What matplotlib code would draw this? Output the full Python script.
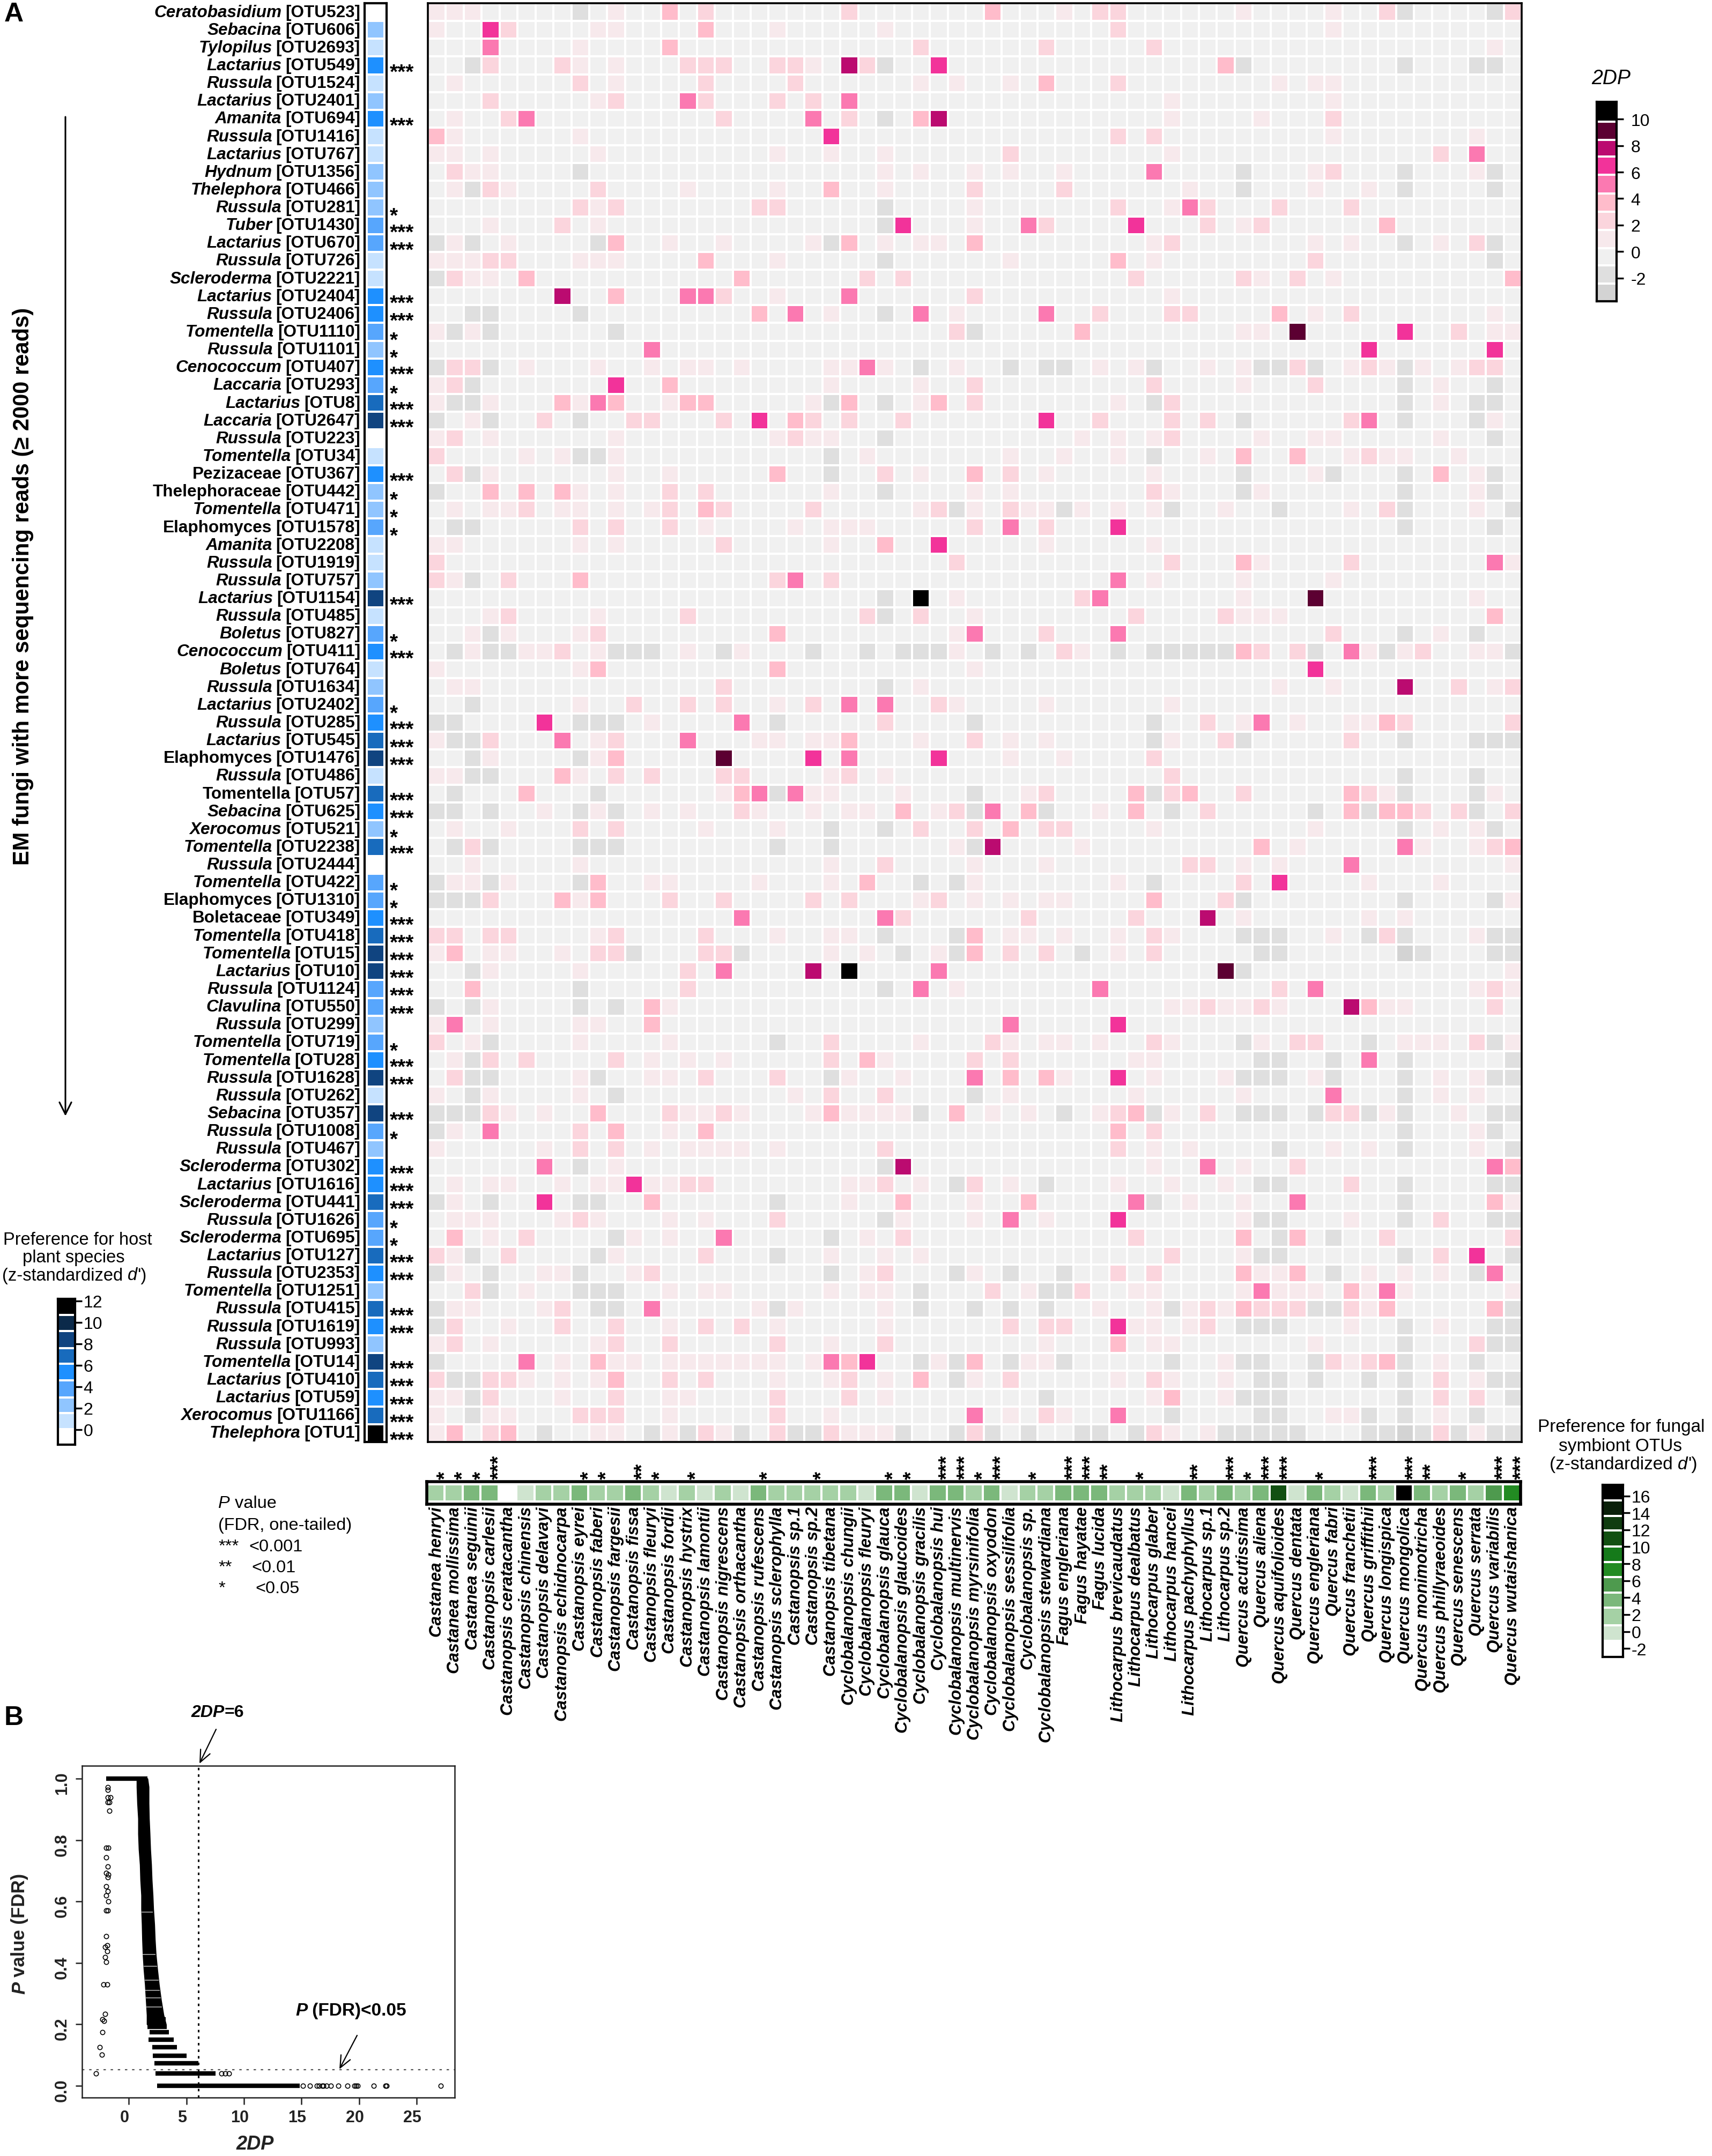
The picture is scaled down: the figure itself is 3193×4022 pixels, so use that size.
import numpy as np
import matplotlib
matplotlib.use('Agg')
import matplotlib.pyplot as plt
from matplotlib.colors import ListedColormap, BoundaryNorm
from matplotlib.patches import FancyArrowPatch
from matplotlib.transforms import blended_transform_factory, ScaledTranslation

plt.rcParams['font.family'] = ['Liberation Sans', 'DejaVu Sans']
plt.rcParams['axes.unicode_minus'] = False

W, H = 3193, 4023

# fungal OTUs, top to bottom
genus = ['Ceratobasidium','Sebacina','Tylopilus','Lactarius','Russula','Lactarius','Amanita','Russula','Lactarius','Hydnum',
         'Thelephora','Russula','Tuber','Lactarius','Russula','Scleroderma','Lactarius','Russula','Tomentella','Russula',
         'Cenococcum','Laccaria','Lactarius','Laccaria','Russula','Tomentella','Pezizaceae','Thelephoraceae','Tomentella','Elaphomyces',
         'Amanita','Russula','Russula','Lactarius','Russula','Boletus','Cenococcum','Boletus','Russula','Lactarius',
         'Russula','Lactarius','Elaphomyces','Russula','Tomentella','Sebacina','Xerocomus','Tomentella','Russula','Tomentella',
         'Elaphomyces','Boletaceae','Tomentella','Tomentella','Lactarius','Russula','Clavulina','Russula','Tomentella','Tomentella',
         'Russula','Russula','Sebacina','Russula','Russula','Scleroderma','Lactarius','Scleroderma','Russula','Scleroderma',
         'Lactarius','Russula','Tomentella','Russula','Russula','Russula','Tomentella','Lactarius','Lactarius','Xerocomus','Thelephora']
otu = [523,606,2693,549,1524,2401,694,1416,767,1356,466,281,1430,670,726,2221,2404,2406,1110,1101,407,293,8,2647,223,34,367,442,471,1578,
       2208,1919,757,1154,485,827,411,764,1634,2402,285,545,1476,486,57,625,521,2238,2444,422,1310,349,418,15,10,1124,550,299,719,28,
       1628,262,357,1008,467,302,1616,441,1626,695,127,2353,1251,415,1619,993,14,410,59,1166,1]
upright_rows = [26, 27, 29, 42, 44, 50, 51]

# z-standardized d' of each fungus, and its star count
otu_pref = [-0.5,2.3,0.8,5.4,0.8,2.3,5.4,0.8,0.8,2.3,2.3,2.3,3.8,3.8,0.8,0.8,5.4,5.4,3.8,2.3,5.4,3.8,6.9,8.4,-0.5,0.8,5.4,
            2.3,2.3,3.8,0.8,0.8,2.3,8.4,0.8,3.8,5.4,0.8,2.3,3.8,5.4,6.9,8.4,0.8,6.9,5.4,2.3,6.9,-0.5,3.8,3.8,5.4,6.9,8.4,8.4,
            3.8,3.8,2.3,3.8,5.4,8.4,0.8,8.4,3.8,2.3,5.4,5.4,6.9,3.8,3.8,6.9,5.4,2.3,6.9,5.4,2.3,8.4,6.9,5.4,6.9,11.5]
otu_stars = [0,0,0,3,0,0,3,0,0,0,0,1,3,3,0,0,3,3,1,1,3,1,3,3,0,0,3,1,1,1,0,0,0,3,0,1,3,0,0,1,3,3,3,0,3,3,1,3,0,1,1,3,3,3,3,3,3,
             0,1,3,3,0,3,1,0,3,3,3,1,1,3,3,0,3,3,0,3,3,3,3,3]

# host plants, left to right
plants = ['Castanea henryi','Castanea mollissima','Castanea seguinii','Castanopsis carlesii','Castanopsis ceratacantha',
          'Castanopsis chinensis','Castanopsis delavayi','Castanopsis echidnocarpa','Castanopsis eyrei','Castanopsis faberi',
          'Castanopsis fargesii','Castanopsis fissa','Castanopsis fleuryi','Castanopsis fordii','Castanopsis hystrix',
          'Castanopsis lamontii','Castanopsis nigrescens','Castanopsis orthacantha','Castanopsis rufescens','Castanopsis sclerophylla',
          'Castanopsis sp.1','Castanopsis sp.2','Castanopsis tibetana','Cyclobalanopsis chungii','Cyclobalanopsis fleuryi',
          'Cyclobalanopsis glauca','Cyclobalanopsis glaucoides','Cyclobalanopsis gracilis','Cyclobalanopsis hui','Cyclobalanopsis multinervis',
          'Cyclobalanopsis myrsinifolia','Cyclobalanopsis oxyodon','Cyclobalanopsis sessilifolia','Cyclobalanopsis sp.','Cyclobalanopsis stewardiana',
          'Fagus engleriana','Fagus hayatae','Fagus lucida','Lithocarpus brevicaudatus','Lithocarpus dealbatus','Lithocarpus glaber',
          'Lithocarpus hancei','Lithocarpus pachyphyllus','Lithocarpus sp.1','Lithocarpus sp.2','Quercus acutissima','Quercus aliena',
          'Quercus aquifolioides','Quercus dentata','Quercus engleriana','Quercus fabri','Quercus franchetii','Quercus griffithii',
          'Quercus longispica','Quercus mongolica','Quercus monimotricha','Quercus phillyraeoides','Quercus senescens','Quercus serrata',
          'Quercus variabilis','Quercus wutaishanica']
plant_pref = [2,2,3.7,3.7,-2,0,2,2,3.7,2,2,3.7,2,0,2,0,2,0,3.7,2,2,2,2,2,0,3.7,3.7,0,3.7,3.7,2,3.7,0,2,2,3.7,3.7,3.7,2,2,2,0,3.7,2,3.7,2,3.7,
              11,0,3.7,2,0,3.7,2,16.5,3.7,2,3.7,2,5.5,7.3]
plant_stars = [1,1,1,3,0,0,0,0,1,1,0,2,1,0,1,0,0,0,1,0,0,1,0,0,0,1,1,0,3,3,1,3,0,1,0,3,3,2,0,1,0,0,2,0,3,1,3,3,0,1,0,0,3,0,3,2,0,1,0,3,3]

# 2DP read per row as {plant column: level}, anything left out is the pale background level
heat_rows = [
 {0:1,1:1,2:1,8:-2,10:1,13:3,15:2,23:2,31:3,35:1,37:2,38:2,45:1,50:1,53:2,54:-2,59:-2,60:2},
 {0:1,3:6,4:2,9:1,10:1,15:3,19:1,25:1,38:2,50:1},
 {3:5,8:1,13:3,27:2,34:2,40:2,59:1},
 {2:-2,3:2,7:2,8:1,10:1,14:2,15:2,16:2,19:2,20:2,21:1,23:7,24:2,25:-2,28:6,44:3,45:-2,54:-2,58:-2,59:-2},
 {1:1,8:2,10:1,15:2,20:2,27:1,29:1,32:1,34:3,38:2,47:1,49:1,50:1},
 {3:2,9:1,10:2,14:5,15:2,19:2,21:2,23:5,41:1,50:1},
 {1:1,4:2,5:5,16:2,21:5,23:2,25:-2,27:3,28:7,41:1,46:1,50:2},
 {0:3,1:1,8:1,22:6,38:2,40:2,50:1,58:1},
 {0:1,1:1,3:1,9:1,19:1,22:1,25:1,32:2,41:1,56:2,58:5},
 {1:2,2:1,3:1,8:-2,25:1,27:1,30:1,32:1,35:1,40:5,45:-2,49:1,50:2,54:-2,58:1,59:-2},
 {1:1,2:-2,3:2,4:1,9:2,14:1,19:1,22:3,25:1,30:2,35:2,42:1,45:-2,49:1,52:1,54:-2,59:-2},
 {8:2,9:1,10:2,18:2,19:2,25:-2,30:1,38:2,41:1,42:5,43:2,47:2,51:2},
 {3:1,7:2,9:1,25:-2,26:6,30:1,33:5,34:2,39:6,43:2,45:1,46:2,53:3},
 {0:-2,1:1,2:-2,4:1,9:-2,10:3,13:1,16:1,21:1,22:-2,23:3,25:1,27:1,28:1,30:3,40:1,41:2,49:1,51:1,54:-2,56:1,58:2,59:-2},
 {0:1,1:1,2:1,3:2,4:2,8:1,9:1,10:1,15:3,19:1,25:-2,32:1,38:3,40:1,49:2,59:-2},
 {0:-2,1:2,2:1,3:1,5:3,17:3,24:2,26:2,39:2,45:2,46:1,48:2,50:1,60:3},
 {7:7,10:3,14:5,15:5,16:2,19:1,23:5,30:2,41:1},
 {2:-2,3:-2,8:-2,18:3,20:5,22:1,25:-2,27:5,29:1,34:5,37:2,41:2,42:2,47:3,49:1,51:2,59:1},
 {0:1,1:-2,2:1,3:-2,10:-2,29:2,30:-2,36:3,45:1,46:1,48:9,54:6,57:2,59:1,60:1},
 {12:5,52:6,59:6},
 {0:-2,1:2,2:2,3:-2,5:1,9:1,12:1,14:1,15:1,17:1,22:1,23:1,24:5,25:1,27:-2,29:1,32:-2,34:-2,35:-2,37:1,39:1,40:-2,43:1,45:1,46:-2,47:-2,48:2,49:-2,51:1,52:2,53:1,54:-2,55:1,57:1,58:2,59:2},
 {0:1,1:2,2:-2,10:6,13:3,22:1,27:1,30:2,40:2,45:1,49:2,54:-2,56:1,59:-2},
 {0:1,1:-2,2:-2,3:1,7:3,8:1,9:5,10:3,13:1,14:3,15:3,21:1,22:-2,23:3,25:-2,27:1,28:3,30:2,38:1,40:-2,41:2,54:-2,56:1,58:-2,59:-2},
 {0:-2,2:1,3:-2,6:2,8:-2,11:2,12:2,16:2,18:6,20:3,21:2,23:2,26:2,34:6,37:2,41:2,43:2,45:-2,51:2,52:5,54:-2,58:-2,59:1},
 {0:1,1:2,3:1,10:1,19:1,20:2,21:1,22:1,25:-2,36:1,38:1,40:1,41:2,46:1,49:1,50:1,56:1,59:-2},
 {0:2,5:1,7:1,8:-2,9:-2,10:1,22:-2,24:1,32:1,35:1,38:1,40:-2,43:1,45:3,48:3,51:1,52:2,53:1,54:1,57:1},
 {1:2,2:-2,3:1,10:1,13:1,19:3,22:-2,25:2,27:1,30:3,32:2,34:1,40:1,45:-2,49:1,50:-2,54:-2,56:3,58:1,59:-2},
 {0:-2,3:3,5:3,7:3,8:1,10:1,13:2,15:2,22:1,25:-2,30:1,32:1,40:2,41:1,45:-2,46:1,54:-2,58:1,59:-2},
 {1:1,3:1,4:1,5:2,7:1,8:1,10:1,12:1,13:2,15:3,16:2,21:2,27:1,28:2,29:-2,30:1,32:2,33:1,34:1,35:-2,36:1,38:1,40:1,41:-2,44:1,47:-2,51:1,53:2,54:-2,58:1,60:-2},
 {1:-2,2:-2,8:2,10:2,13:2,15:1,20:1,22:1,23:1,24:1,30:2,32:5,34:2,38:6,54:-2,59:-2},
 {0:1,1:1,8:1,10:1,16:2,22:1,25:3,28:6,34:1,40:1},
 {0:2,29:2,41:2,45:3,46:1,51:2,59:5,60:1},
 {0:2,1:1,2:-2,4:2,8:3,19:2,20:5,22:2,38:5,40:1,45:1,50:1},
 {25:-2,27:10,29:1,36:2,37:5,45:1,49:9,58:1},
 {3:1,4:2,9:1,14:2,24:2,25:-2,27:2,30:1,39:2,44:2,45:1,46:1,47:1,59:3},
 {2:1,3:-2,4:1,8:1,9:2,19:3,29:1,30:5,34:2,38:5,50:2,54:-2,56:1,58:-2},
 {1:-2,2:1,3:-2,4:-2,5:1,6:1,7:2,9:1,10:-2,11:-2,12:-2,14:1,16:-2,17:1,21:-2,24:-2,26:-2,27:-2,28:-2,29:1,31:-2,33:-2,35:2,36:1,38:-2,40:-2,41:-2,42:-2,43:-2,44:-2,45:3,46:2,48:2,49:-2,51:5,52:1,53:-2,54:1,55:2,58:1,59:1,60:-2},
 {0:1,8:1,9:3,19:3,30:1,49:6},
 {1:1,2:1,16:2,25:-2,27:1,47:1,50:1,54:7,57:2,59:1,60:2},
 {2:-2,8:1,11:2,14:2,16:2,19:1,21:2,23:5,25:5,28:2,29:1,34:1,41:1},
 {0:-2,1:-2,6:6,8:-2,9:-2,10:-2,12:1,17:5,19:-2,25:2,30:-2,40:-2,43:2,45:1,46:5,48:1,51:1,52:1,53:3,54:2,60:2},
 {0:1,1:-2,2:-2,3:2,7:5,9:1,10:2,14:5,18:1,19:1,21:1,22:1,23:3,27:1,30:2,32:1,34:1,40:-2,41:1,44:2,45:-2,51:2,54:-2,58:-2,59:-2,60:-2},
 {2:-2,3:1,8:-2,9:1,10:3,16:9,21:6,23:5,28:6,32:1,35:1,40:2},
 {0:1,1:1,2:-2,3:-2,7:3,8:1,10:2,12:2,16:2,17:2,22:1,23:2,25:1,41:2,54:-2,58:-2},
 {1:-2,5:3,9:-2,16:1,17:3,18:5,19:-2,20:5,21:1,22:1,26:1,30:-2,33:1,34:2,39:3,40:-2,41:2,42:3,45:2,51:3,52:2,53:1,54:-2,58:-2,59:1},
 {0:-2,1:-2,3:-2,6:1,8:-2,9:1,10:-2,12:1,14:1,17:2,18:1,21:1,23:1,24:1,26:3,28:1,29:2,30:-2,31:5,33:3,34:-2,37:1,39:3,41:-2,43:2,49:-2,51:3,52:-2,53:3,54:3,55:2,57:2,58:-2,60:2},
 {1:1,4:1,8:2,10:2,15:1,19:1,22:-2,25:-2,27:2,30:2,32:3,34:2,35:2,40:1,49:1,54:-2,56:1,58:1,59:-2},
 {1:-2,2:2,3:-2,8:-2,9:-2,10:-2,19:-2,22:-2,29:1,30:-2,31:7,36:1,46:3,48:1,54:5,55:1,58:1,59:2,60:3},
 {2:1,8:1,22:1,25:2,30:1,34:1,42:2,43:2,45:1,47:1,51:5,60:1},
 {0:-2,1:1,2:1,3:-2,4:1,8:-2,9:3,12:1,13:1,18:1,22:1,24:3,27:-2,29:-2,30:1,38:1,40:-2,45:2,47:6,52:1,56:1},
 {0:-2,1:-2,2:-2,3:2,7:3,8:1,9:3,13:2,16:2,21:2,23:2,27:1,28:2,30:1,32:1,34:1,35:1,40:3,44:2,45:-2,54:-2,59:-2,60:1},
 {17:5,25:5,26:2,33:2,39:2,43:7,45:1,52:1,54:1},
 {0:2,1:2,3:2,4:2,9:1,10:2,15:2,19:1,22:1,23:1,25:-2,29:-2,30:3,32:1,33:1,35:1,38:1,40:2,41:1,45:-2,46:-2,47:-2,50:1,52:-2,53:2,54:-2,58:1,59:-2,60:-2},
 {0:1,1:3,3:1,4:1,7:1,9:2,10:2,11:-2,15:2,16:2,17:-2,22:1,24:1,26:-2,28:1,29:-2,30:3,32:2,34:2,36:-2,38:1,40:2,46:-2,47:-2,54:-3,55:-2,59:-2,60:-2},
 {2:-2,3:1,8:1,14:2,16:5,21:7,23:10,28:5,44:9,45:-2,60:1},
 {2:3,8:-2,14:2,25:-2,27:5,29:1,37:5,47:2,49:5,58:1,59:2,60:1},
 {0:-2,2:-2,3:1,8:-2,10:-2,12:3,13:1,41:1,42:1,43:2,44:1,45:1,46:2,47:1,51:7,52:3,53:1,54:1,59:2},
 {0:1,1:5,3:1,8:1,9:1,12:3,32:5,38:6},
 {0:2,2:1,3:-2,8:1,13:1,19:-2,22:2,27:1,31:2,32:1,34:1,35:1,37:1,40:2,41:1,45:-2,46:1,48:2,49:2,52:-2,54:1,55:1,56:1,58:2,59:-2,60:1},
 {1:1,2:-2,3:2,5:2,10:2,12:1,14:1,16:1,22:2,24:3,25:1,30:2,32:2,39:1,40:1,46:-2,47:-2,50:-2,52:5,54:-2,60:-2},
 {1:2,2:-2,3:-2,8:1,9:-2,12:1,13:1,15:2,19:2,22:-2,23:1,26:1,30:5,32:3,34:3,35:1,38:6,40:1,44:1,45:-2,46:-2,47:-2,49:1,50:-2,54:-2,56:1,58:1,59:-2,60:-2},
 {0:1,2:-2,3:1,8:1,10:-2,20:1,22:2,25:2,30:-2,32:1,39:1,45:1,50:5,54:-2,56:1,58:1},
 {0:-2,1:-2,2:-2,3:2,4:1,6:1,9:3,13:2,14:1,15:1,16:2,17:1,21:1,22:3,23:1,24:1,25:1,26:1,27:-2,29:3,31:1,33:1,35:-2,37:1,38:2,39:3,40:-2,41:1,43:2,45:-2,46:-2,47:-2,49:-2,50:2,51:2,52:-2,53:1,54:-2,57:1,59:-2,60:-2},
 {0:-2,1:1,3:5,8:2,10:3,13:1,15:3,38:3,40:2,54:-2,58:1,59:-2},
 {0:1,6:1,8:2,10:2,12:1,14:1,15:1,16:1,17:1,19:1,25:2,38:2,40:1,42:1,47:-2,50:1,52:1,54:-2,58:1,60:-2},
 {6:5,8:-2,10:1,25:-2,26:7,40:1,43:5,45:1,48:2,59:5,60:3},
 {1:1,3:1,4:1,7:1,9:1,10:1,11:6,12:1,13:1,14:2,15:2,23:1,24:1,25:2,27:1,29:-2,30:2,32:1,34:-2,38:1,41:1,44:1,46:-2,47:-2,51:2,54:-2,59:-2,60:-2},
 {0:-2,1:1,3:-2,6:6,8:-2,9:-2,12:3,19:-2,23:1,26:3,30:1,33:3,39:5,40:-2,42:1,45:1,48:5,54:-2,59:3,60:1},
 {1:1,2:1,3:1,7:1,8:2,9:1,13:1,15:1,19:2,25:-2,26:1,30:1,32:5,34:1,38:6,45:1,46:-2,47:-2,51:1,54:-2,56:2,59:-2,60:-2},
 {1:3,3:1,5:2,10:-2,11:1,13:1,16:5,22:-2,24:1,26:2,39:2,45:3,47:-2,48:3,50:-2,53:2,60:2},
 {0:2,1:1,2:-2,4:2,9:-2,10:1,15:2,19:-2,22:1,25:1,27:1,41:2,45:1,46:-2,47:-2,54:-2,56:2,58:6,60:-2},
 {0:-2,1:1,3:-2,6:1,7:1,8:-2,11:1,12:2,22:-2,24:1,25:2,29:-2,30:1,32:-2,35:-2,38:2,40:2,45:3,46:1,47:1,48:3,50:-2,52:1,54:1,56:1,58:-2,59:5},
 {2:2,3:-2,5:1,8:-2,9:-2,10:-2,13:1,15:1,16:1,22:1,24:1,25:1,27:-2,31:2,33:1,34:-2,35:-2,36:2,39:1,40:1,45:1,46:5,47:1,48:1,49:1,51:3,52:1,53:5,54:1,60:1},
 {0:-2,1:1,2:1,6:1,7:2,9:-2,10:-2,12:5,18:1,19:-2,20:1,25:1,27:-2,30:-2,32:-2,34:-2,37:1,40:1,41:-2,42:1,43:2,44:1,45:3,46:2,47:2,48:2,49:-2,50:-2,51:2,52:1,53:3,59:3,60:-2},
 {0:-2,1:2,4:1,7:2,10:2,13:1,15:2,17:2,19:1,25:1,32:2,34:2,35:2,38:6,39:1,40:1,42:1,43:2,45:-2,46:-2,47:-2,51:1,54:-2,56:1,59:-2,60:-2},
 {0:1,1:2,3:1,9:1,10:2,13:2,19:2,22:1,25:2,34:1,38:3,40:1,41:1,49:1,54:-2,58:2,59:-2,60:-2},
 {0:-2,5:5,7:1,9:3,10:1,11:1,13:1,14:1,15:1,16:1,17:1,18:1,19:1,21:1,22:5,23:3,24:6,27:-2,28:1,29:-2,30:3,32:-2,33:1,34:1,35:-2,41:-2,44:1,45:-2,46:-2,49:-2,50:2,51:1,52:2,53:3,54:-2,56:1,58:-2},
 {0:2,1:-2,2:-2,3:2,4:2,5:1,7:1,9:1,10:3,13:2,15:2,19:1,22:1,23:2,25:1,27:3,29:-2,30:1,32:2,38:1,40:2,41:1,44:1,46:-2,47:-2,49:-2,52:-2,54:-2,56:2,58:1,59:-2,60:-2},
 {0:1,1:1,2:-2,3:2,7:1,10:2,13:1,14:1,19:2,23:2,25:1,34:-2,40:1,41:3,44:1,45:-2,46:-2,47:-2,54:-2,56:2,58:2,60:-2},
 {0:1,2:-2,3:1,4:1,8:2,9:2,10:2,13:1,19:2,22:1,30:5,32:1,34:2,35:1,38:5,41:-2,46:-2,47:-2,50:1,51:1,52:-2,54:-2,56:1,58:-2},
 {0:1,1:3,3:2,4:3,6:-2,9:1,10:1,12:-2,13:1,14:-2,15:2,16:1,17:-2,19:2,20:-2,21:-2,22:2,23:1,24:1,25:1,26:-2,29:-2,30:2,31:-2,33:-2,36:-2,37:-2,39:-2,40:2,41:1,43:1,44:-2,45:-2,46:-2,47:-2,48:-2,52:-2,53:-2,54:-3,55:-2,56:2,57:-2,58:1,59:-2,60:-2},
]
level_2dp = {-3:-3, -2:-2, 0:0, 1:1, 2:2, 3:3.7, 5:5, 6:6.5, 7:7.8, 9:9, 10:10.5}

# colour keys
heat_bins = [-3.75,-2.4,-1.05,0.27,1.65,3,4.4,5.78,7.16,8.43,9.8,11.3]
heat_cols = ['#d3d3d3','#dfdfdf','#f0f0f0','#f7e9ec','#fbd5dd','#ffbccb','#fb79b1','#f2339a','#bb0b70','#5c0032','#000000']
blue_bins = [-1.4,0.07,1.55,3,4.6,6.15,7.6,9.2,10.7,12.2]
blue_cols = ['#ffffff','#c6e2ff','#90c5ff','#57a6fd','#1e90ff','#186bbd','#104480','#0b2a4a','#000000']
green_bins = [-3,-1.1,0.7,2.8,4.6,6.4,8.2,10,11.9,13.65,15.45,17.3]
green_cols = ['#ffffff','#cfe4cf','#a5d1a5','#7bb87b','#4e9a4e','#228b22','#157a1a','#125012','#103c10','#0a200a','#000000']

# panel B: solid part of the cloud, read as left and right edge per P level
edge_p = [1.0,0.973,0.92,0.87,0.82,0.77,0.72,0.67,0.62,0.575,0.525,0.477,0.427,0.378,0.33,0.28,0.23,0.2]
edge_left = [0.72,0.72,0.77,0.85,0.85,0.9,1.0,1.04,1.12,1.12,1.17,1.2,1.25,1.33,1.44,1.52,1.6,1.6]
edge_right = [1.6,1.7,1.7,1.73,1.79,1.84,1.92,1.97,2.05,2.1,2.19,2.24,2.32,2.45,2.59,2.77,2.99,3.2]
band_p = [1.0,0.216,0.192,0.174,0.15,0.125,0.098,0.072,0.04,0.0]
band_left = [-1.95,1.65,1.6,1.79,1.7,2.05,2.1,2.24,2.32,2.45]
band_right = [1.6,3.2,3.28,3.47,3.92,4.19,5.04,6.06,7.52,14.86]
# thin pale breaks inside the cloud
break_p = [0.565,0.428,0.388,0.344,0.31,0.285,0.256]
break_left = [1.1,1.2,1.3,1.4,1.45,1.5,1.55]
break_right = [2.1,2.3,2.45,2.6,2.7,2.8,2.9]
lone_x = [-1.81,-1.81,-1.81,-1.6,-1.81,-1.68,-1.68,-1.95,-1.76,-1.95,-1.81,-1.95,-1.76,-1.81,-1.95,-1.81,-1.95,-1.76,-1.95,-1.81,-1.95,-1.89,-2.08,-1.89,-2.08,-1.95,-2.21,-1.89,-2.08,-2.29,-2.13,-2.29,-2.53,-2.35,-2.83,
          8.06,8.38,8.72,15.13,15.74,16.33,16.54,16.81,16.9,17.18,17.53,18.2,19.0,19.6,19.74,19.88,21.27,22.28,22.41,27.08]
lone_p = [.973,.964,.939,.939,.924,.924,.895,.774,.774,.744,.713,.693,.688,.678,.649,.634,.619,.6,.57,.57,.487,.457,.452,.438,.418,.403,.329,.329,.234,.216,.211,.174,.126,.1,.039,
          .04,.04,.04,0,0,0,0,0,0,0,0,0,0,0,0,0,0,0,0,0]


fig = plt.figure(figsize=(W / 100, H / 100), dpi=100, facecolor='white')
renderer = fig.canvas.get_renderer()


def add_ax(l, t, r, b):
    return fig.add_axes([l / W, 1 - b / H, (r - l) / W, (b - t) / H])


def txt(x, y, s, **kw):
    return fig.text(x / W, 1 - y / H, s, **kw)


def mixed(x, y, parts, size, weight='normal', gap=0):
    # text in a row, parts are (string, style)
    for s, style in parts:
        t = txt(x, y, s, fontsize=size, fontstyle=style, fontweight=weight, ha='left', va='center')
        x = t.get_window_extent(renderer).x1 + gap


def color_key(l, t, r, b, bins, cols, ticks, pad):
    ax = add_ax(l, t, r, b)
    ax.pcolormesh([0, 1], bins, np.arange(len(cols))[:, None], cmap=ListedColormap(cols),
                  edgecolors='white', linewidth=2.6)
    ax.set_ylim(bins[0], bins[-1])
    ax.set_xticks([])
    ax.yaxis.tick_right()
    ax.set_yticks(ticks)
    ax.tick_params(axis='y', length=9, width=2.4, labelsize=23, pad=pad)
    for s in ax.spines.values():
        s.set_linewidth(3)
    return ax


# panel A heat map
heat = np.zeros((len(genus), len(plants)))
for i, row in enumerate(heat_rows):
    for j, lev in row.items():
        heat[i, j] = level_2dp[lev]

ax_heat = add_ax(798, 7, 2838, 2691)
ax_heat.pcolormesh(np.arange(len(plants) + 1), np.arange(len(genus) + 1), heat,
                   cmap=ListedColormap(heat_cols), norm=BoundaryNorm(heat_bins, len(heat_cols)),
                   edgecolors='white', linewidth=2.7)
ax_heat.set_ylim(len(genus), 0)
ax_heat.set_xlim(0, len(plants))
ax_heat.set_xticks([])
ax_heat.set_yticks([])
for s in ax_heat.spines.values():
    s.set_linewidth(2.6)

# fungal preference strip
ax_blue = add_ax(680, 7, 721, 2691)
ax_blue.pcolormesh([0, 1], np.arange(len(genus) + 1), np.array(otu_pref)[:, None],
                   cmap=ListedColormap(blue_cols), norm=BoundaryNorm(blue_bins, len(blue_cols)),
                   edgecolors='white', linewidth=2.7)
ax_blue.set_ylim(len(genus), 0)
ax_blue.set_xlim(-0.14, 1.14)
ax_blue.set_xticks([])
ax_blue.set_yticks([])
for s in ax_blue.spines.values():
    s.set_linewidth(3)

# plant preference strip
ax_green = add_ax(796, 2765, 2836, 2807)
ax_green.pcolormesh(np.arange(len(plants) + 1), [0, 1], np.array(plant_pref)[None, :],
                    cmap=ListedColormap(green_cols), norm=BoundaryNorm(green_bins, len(green_cols)),
                    edgecolors='white', linewidth=2.7)
ax_green.set_ylim(-0.16, 1.16)
ax_green.set_xlim(0, len(plants))
ax_green.set_xticks([])
ax_green.set_yticks([])
for s in ax_green.spines.values():
    s.set_linewidth(4)

# row labels and stars
row_tf = blended_transform_factory(fig.transFigure, ax_blue.transData)
for i in range(len(genus)):
    y = i + 0.5
    t = fig.text(672 / W, y, '[OTU%d]' % otu[i], transform=row_tf, fontsize=22.7, fontweight='bold', ha='right', va='center')
    x0 = t.get_window_extent(renderer).x0 - 7
    style = 'normal' if i in upright_rows else 'italic'
    fig.text(x0 / W, y, genus[i], transform=row_tf, fontsize=22.7, fontweight='bold', fontstyle=style, ha='right', va='center')
    if otu_stars[i]:
        y_star = i + (1.0 if otu_stars[i] == 1 else 0.92)
        fig.text(727 / W, y_star, '*' * otu_stars[i], transform=row_tf, fontsize=28, fontweight='bold', ha='left', va='center')

# column labels and stars
col_tf = blended_transform_factory(ax_heat.transData, fig.transFigure)
for j, name in enumerate(plants):
    fig.text(j + 0.5, 1 - 2811 / H, name, transform=col_tf, rotation=90, fontsize=22.6, fontweight='bold', fontstyle='italic',
             ha='center', va='top')
    if plant_stars[j]:
        fig.text(j + 1.0, 1 - 2760 / H, '*' * plant_stars[j], transform=col_tf, rotation=90, fontsize=28, fontweight='bold',
                 ha='center', va='bottom')

# keys
color_key(2978, 191, 3015, 563, heat_bins, heat_cols, [-2, 0, 2, 4, 6, 8, 10], 10)
color_key(108, 2424, 140, 2696, blue_bins, blue_cols, [0, 2, 4, 6, 8, 10, 12], 2)
color_key(2989, 2771, 3027, 3092, green_bins, green_cols, [-2, 0, 2, 4, 6, 8, 10, 12, 14, 16], 2)

txt(3005, 147, '2DP', fontsize=27, fontstyle='italic', ha='center', va='center')
txt(145, 2313, 'Preference for host', fontsize=23.5, ha='center', va='center')
txt(137, 2347, 'plant species', fontsize=23.5, ha='center', va='center')
mixed(4, 2380, [('(z-standardized ', 'normal'), ('d', 'italic'), ("')", 'normal')], 23.5)
txt(3024, 2663, 'Preference for fungal', fontsize=24, ha='center', va='center')
txt(3022, 2699, 'symbiont OTUs', fontsize=24, ha='center', va='center')
mixed(2890, 2733, [('(z-standardized ', 'normal'), ('d', 'italic'), ("')", 'normal')], 24)

mixed(407, 2805, [('P', 'italic'), (' value', 'normal')], 23.4)
txt(407, 2846, '(FDR, one-tailed)', fontsize=23.4, ha='left', va='center')
for y, stars, x, lab in [(2886, '***', 464, '<0.001'), (2925, '**', 469, '<0.01'), (2964, '*', 476, '<0.05')]:
    txt(407, y, stars, fontsize=23.4, ha='left', va='center')
    txt(x, y, lab, fontsize=23.4, ha='left', va='center')

txt(43, 1094, 'EM fungi with more sequencing reads (\u2265 2000 reads)', rotation=90, fontsize=30, fontweight='bold',
    ha='center', va='center')
txt(8, 27, 'A', fontsize=36, fontweight='bold', ha='left', va='center')
txt(8, 3205, 'B', fontsize=36, fontweight='bold', ha='left', va='center')


def arrow(x0, y0, x1, y1, head, lw):
    fig.add_artist(FancyArrowPatch((x0 / W, 1 - y0 / H), (x1 / W, 1 - y1 / H), transform=fig.transFigure,
                                   arrowstyle=head, mutation_scale=20, linewidth=lw, color='black',
                                   shrinkA=0, shrinkB=0))


arrow(122, 219, 122, 2083, '->,head_length=0.8,head_width=0.4', 2.2)

# panel B
ax_b = add_ax(153, 3295, 848, 3914)
ax_b.fill_betweenx(edge_p, edge_left, edge_right, color='black', linewidth=2)
ax_b.hlines(band_p, band_left, band_right, color='black', linewidth=6)
ax_b.hlines(break_p, break_left, break_right, color='#aaaaaa', linewidth=1.2)
ax_b.plot(lone_x, lone_p, 'o', mfc='none', mec='black', ms=6, mew=1.2)
ax_b.axvline(6.05, color='black', linestyle=(0, (1.5, 2.5)), linewidth=2.2)
ax_b.axhline(0.051, color='#555555', linestyle=(0, (2, 4)), linewidth=1.6)
ax_b.set_xlim(-4.06, 28.3)
ax_b.set_ylim(-0.039, 1.042)
ax_b.set_xticks([0, 5, 10, 15, 20, 25])
ax_b.set_yticks([0, 0.2, 0.4, 0.6, 0.8, 1.0])
ax_b.set_yticklabels(['0.0', '0.2', '0.4', '0.6', '0.8', '1.0'], rotation=90, va='center')
ax_b.tick_params(length=9, width=1.8, labelsize=22, pad=7, colors='#222222')
shift_x = ScaledTranslation(-8 / 100, 0, fig.dpi_scale_trans)
shift_y = ScaledTranslation(0, -8 / 100, fig.dpi_scale_trans)
for lab in ax_b.get_xticklabels():
    lab.set_fontweight('bold')
    lab.set_transform(lab.get_transform() + shift_x)
for lab in ax_b.get_yticklabels():
    lab.set_fontweight('bold')
    lab.set_transform(lab.get_transform() + shift_y)
for s in ax_b.spines.values():
    s.set_linewidth(1.8)
    s.set_color('#222222')

txt(476, 4001, '2DP', fontsize=26, fontweight='bold', fontstyle='italic', ha='center', va='center', color='#222222')
txt(37, 3720, 'P', fontsize=25, fontweight='bold', fontstyle='italic', rotation=90, ha='center', va='bottom', color='#222222')
txt(37, 3688, 'value (FDR)', fontsize=25, fontweight='bold', rotation=90, ha='center', va='bottom', color='#222222')
mixed(356, 3195, [('2DP', 'italic'), ('=6', 'normal')], 23, 'bold')
mixed(551, 3752, [('P', 'italic'), (' (FDR)<0.05', 'normal')], 24, 'bold')
arrow(403, 3227, 372, 3291, '->,head_length=0.8,head_width=0.35', 1.6)
arrow(666, 3798, 633, 3861, '->,head_length=0.8,head_width=0.35', 1.6)

fig.savefig('out.png', dpi=100)
